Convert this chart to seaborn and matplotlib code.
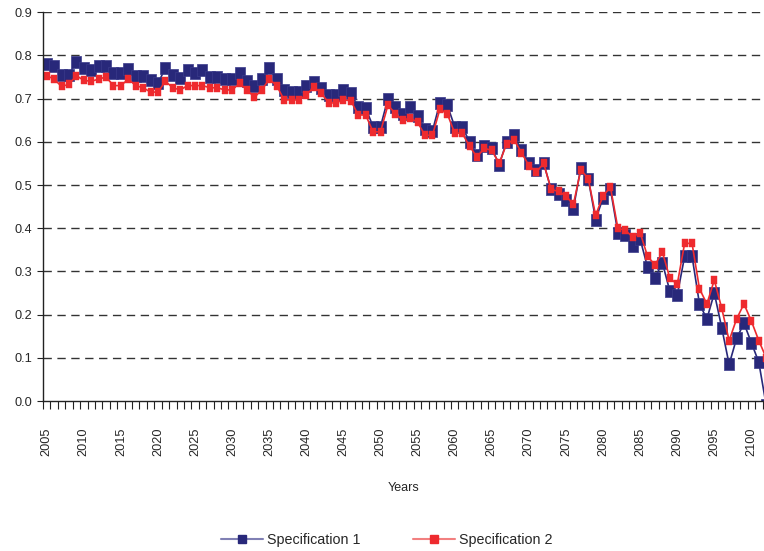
import numpy as np
import pandas as pd
import matplotlib
matplotlib.use("Agg")
import matplotlib.pyplot as plt
from matplotlib.lines import Line2D
import seaborn as sns

# yearly values (2102 lies past the cropped right edge)
years = list(range(2005, 2103))

spec1 = [0.780, 0.775, 0.755, 0.755, 0.785, 0.770, 0.765, 0.776, 0.776, 0.759,
         0.759, 0.769, 0.752, 0.752, 0.743, 0.736, 0.770, 0.755, 0.748, 0.765,
         0.760, 0.765, 0.750, 0.750, 0.745, 0.745, 0.760, 0.740, 0.730, 0.745,
         0.770, 0.745, 0.720, 0.715, 0.715, 0.730, 0.738, 0.725, 0.708, 0.708,
         0.720, 0.713, 0.680, 0.678, 0.635, 0.635, 0.700, 0.680, 0.665, 0.680,
         0.660, 0.630, 0.625, 0.690, 0.685, 0.635, 0.635, 0.600, 0.570, 0.590,
         0.585, 0.547, 0.600, 0.615, 0.580, 0.550, 0.535, 0.550, 0.490, 0.480,
         0.465, 0.445, 0.540, 0.515, 0.420, 0.470, 0.490, 0.390, 0.385, 0.360,
         0.375, 0.310, 0.285, 0.320, 0.255, 0.245, 0.335, 0.335, 0.225, 0.190,
         0.250, 0.170, 0.085, 0.145, 0.180, 0.135, 0.090, -0.010]

spec2 = [0.753, 0.745, 0.728, 0.733, 0.753, 0.742, 0.740, 0.745, 0.750, 0.730,
         0.730, 0.745, 0.730, 0.725, 0.715, 0.715, 0.740, 0.725, 0.720, 0.730,
         0.730, 0.730, 0.725, 0.725, 0.720, 0.720, 0.735, 0.720, 0.703, 0.720,
         0.745, 0.730, 0.697, 0.697, 0.697, 0.708, 0.727, 0.713, 0.690, 0.690,
         0.697, 0.695, 0.662, 0.662, 0.623, 0.623, 0.685, 0.665, 0.650, 0.655,
         0.645, 0.615, 0.615, 0.675, 0.665, 0.620, 0.620, 0.590, 0.565, 0.585,
         0.580, 0.550, 0.595, 0.605, 0.575, 0.545, 0.530, 0.550, 0.490, 0.485,
         0.475, 0.455, 0.535, 0.515, 0.430, 0.475, 0.495, 0.400, 0.395, 0.380,
         0.390, 0.335, 0.315, 0.345, 0.285, 0.270, 0.365, 0.365, 0.260, 0.225,
         0.280, 0.215, 0.140, 0.190, 0.225, 0.185, 0.140, 0.100]

label_years = list(range(2005, 2101, 5))

df = pd.DataFrame({"Years": years, "Specification 1": spec1, "Specification 2": spec2})

sns.set_style("white")
plt.rcParams["font.family"] = ["Liberation Sans", "DejaVu Sans"]

navy = "#28287a"
red = "#ee2a2e"
rect_big = [(-0.45, -0.5), (0.45, -0.5), (0.45, 0.5), (-0.45, 0.5), (-0.45, -0.5)]
rect_small = [(-0.36, -0.5), (0.36, -0.5), (0.36, 0.5), (-0.36, 0.5), (-0.36, -0.5)]

fig = plt.figure(figsize=(7.64, 5.51), dpi=100)
ax = fig.add_axes([0.0563, 0.272, 0.9437, 0.706])

sns.lineplot(data=df, x="Years", y="Specification 1", ax=ax, color=navy, lw=1.2,
             marker=rect_big, markersize=8, markeredgecolor="#3a3a8a",
             markeredgewidth=0.5, legend=False)
sns.lineplot(data=df, x="Years", y="Specification 2", ax=ax, color=red, lw=1.2,
             marker=rect_small, markersize=5.8, markeredgecolor=red,
             markeredgewidth=0.3, legend=False)

# category-style axis: ticks between years, labels centred on years
ax.set_xlim(2004.5, 2101.7)
ax.set_ylim(0, 0.9)
ax.set_yticks(np.arange(0, 0.91, 0.1))
ax.set_yticklabels([f"{v:.1f}" for v in np.arange(0, 0.91, 0.1)], fontsize=9.2)
ax.set_xticks(np.arange(2004.5, 2102, 1.0), minor=True)
ax.set_xticks(label_years)
ax.set_xticklabels([str(y) for y in label_years], rotation=90, fontsize=9.2)
ax.tick_params(axis="x", which="minor", direction="out", length=6, width=0.8,
               color="#222222", bottom=True)
ax.tick_params(axis="x", which="major", length=0, pad=19)
ax.tick_params(axis="y", direction="out", length=4, width=0.8, color="#222222", left=True)

for v in np.arange(0.1, 0.91, 0.1):
    ax.axhline(v, color="#333333", lw=1.0, ls=(0, (6, 4)), zorder=0)

for s in ["top", "right"]:
    ax.spines[s].set_visible(False)
for s in ["left", "bottom"]:
    ax.spines[s].set_color("#222222")
    ax.spines[s].set_linewidth(1.0)

ax.set_xlabel("Years", fontsize=9, labelpad=19)
ax.set_ylabel("")

handles = [
    Line2D([], [], color="#8080b4", lw=1.5, marker="s", markersize=5.5,
           markerfacecolor=navy, markeredgecolor=navy),
    Line2D([], [], color="#f28080", lw=1.5, marker="s", markersize=5.5,
           markerfacecolor=red, markeredgecolor=red),
]
fig.legend(handles, ["Specification 1", "Specification 2"], loc="center",
           bbox_to_anchor=(0.5065, 0.02), ncol=2, frameon=False, fontsize=10.3,
           handlelength=2.9, handletextpad=0.3, columnspacing=3.7)

fig.savefig("out.png", dpi=100)
